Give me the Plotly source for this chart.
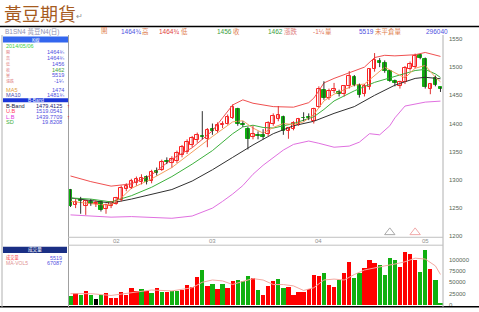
import plotly.graph_objects as go

# ---------------- data ----------------
opens = [1282,1256,1264,1254,1260,1258,1260,1248,1254,1258,1264,1284,1286,1294,1296,1306,1298,1316,1318,1334,
         1330,1334,1344,1350,1362,1370,1378,1372,1390,1386,1398,1400,1410,1425,1400,1390,1376,1380,1380,1382,
         1399,1408,1412,1386,1390,1398,1410,1412,1404,1430,1460,1446,1458,1456,1452,1466,1482,1469,1452,1464,
         1496,1511,1508,1493,1475,1466,1473,1497,1501,1521,1515,1462,1481,1464.75]
highs = [1284,1266,1270,1264,1266,1264,1262,1258,1262,1270,1290,1294,1302,1306,1310,1308,1318,1322,1336,1340,
         1342,1352,1362,1372,1378,1384,1422,1392,1400,1402,1404,1416,1434,1428,1404,1394,1396,1386,1390,1404,
         1418,1431,1414,1394,1404,1410,1420,1418,1428,1466,1475,1462,1472,1460,1468,1493,1486,1471,1470,1498,
         1525,1516,1512,1495,1478,1476,1502,1510,1524,1523,1517,1472,1485,1464.75]
lows = [1252,1250,1240,1238,1254,1252,1244,1240,1250,1256,1262,1280,1284,1290,1292,1292,1294,1308,1316,1328,
        1322,1330,1340,1346,1358,1366,1372,1358,1380,1384,1392,1398,1408,1396,1394,1354,1372,1372,1372,1378,
        1396,1404,1380,1373,1388,1396,1404,1406,1400,1428,1442,1442,1454,1448,1448,1462,1466,1446,1448,1460,
        1492,1500,1490,1474,1466,1462,1470,1494,1498,1514,1462,1452,1466,1456]
closes = [1254,1260,1262,1262,1258,1258,1247,1256,1260,1268,1286,1290,1298,1302,1304,1296,1314,1312,1332,1332,
          1338,1348,1358,1368,1374,1380,1376,1388,1386,1398,1400,1412,1429,1399,1398,1372,1382,1378,1377,1401,
          1414,1416,1387,1392,1401,1408,1409,1410,1425,1462,1446,1458,1462,1452,1466,1484,1469,1450,1466,1496,
          1513,1508,1493,1476,1472,1473,1499,1505,1520,1517,1465,1470,1469,1462]

volumes = [21000,27000,23000,32000,22000,15000,22000,27000,17000,17000,30000,23000,38000,32000,37000,32000,28000,38000,30000,30000,
           32000,32000,34000,45000,41000,63000,78000,42000,46000,37000,46000,39000,54000,56000,53000,65000,61000,33000,23000,43000,
           54000,59000,39000,41000,22000,29000,29000,35000,67000,65000,71000,45000,41000,56000,72000,96000,61000,72000,82000,99000,
           93000,88000,66000,105000,99000,85000,117000,113000,99000,73000,122000,80000,56000,5519]
vol_dir = list("GRGRGKGRRRRRRRGRGRGRGGRRRRGRGRGRRGGGR"
               "GRRRGGRRRRRRRGRRGRRGGRRRGGGGRRRRGGRGG")

# indicator lines read at sample bars: (bar index, value)
ub_pts = [(0,1307),(4,1297),(8,1289),(12,1293),(16,1309),(20,1337),(24,1357),(28,1387),(30,1410),(32,1433),
          (34,1442),(36,1436),(40,1430),(44,1429),(47,1437),(48,1445),(49,1458),(50,1472),(52,1480),(55,1490),
          (58,1500),(60,1517),(62,1521),(64,1520),(68,1522),(70,1526),(73,1519.05)]
lb_pts = [(0,1238),(4,1236),(8,1234),(12,1235),(16,1234),(20,1232),(24,1236),(28,1250),(30,1262),(32,1275),
          (34,1290),(36,1310),(38,1326),(40,1340),(42,1353),(44,1363),(47,1369),(49,1365),(52,1358),(55,1360),
          (57,1367),(59,1382),(61,1380),(63,1396),(64,1410),(66,1431),(68,1435),(70,1438),(73,1439.77)]
mid_pts = [(0,1268),(4,1264),(8,1259),(12,1266),(16,1274),(20,1283),(24,1298),(28,1318),(32,1340),(36,1362),
           (40,1382),(44,1396),(48,1404),(52,1418),(56,1430),(60,1450),(64,1468),(68,1480),(70,1482),(73,1479.41)]
ma10_pts = [(0,1268),(4,1266),(8,1261),(12,1272),(16,1287),(20,1306),(24,1328),(28,1352),(32,1382),(34,1394),
            (36,1397),(38,1393),(40,1392),(44,1400),(48,1412),(50,1425),(52,1440),(56,1458),(60,1473),(64,1484),
            (68,1494),(70,1496),(72,1488),(73,1481.75)]
ma5_pts = [(0,1262),(2,1260),(4,1258),(6,1256),(8,1256),(10,1268),(12,1285),(16,1302),(20,1322),(24,1350),
           (28,1377),(32,1403),(34,1405),(36,1392),(38,1383),(40,1393),(42,1400),(44,1398),(46,1403),(48,1416),
           (50,1440),(52,1452),(54,1460),(56,1468),(58,1470),(60,1485),(62,1500),(64,1490),(66,1481),(68,1498),
           (70,1503),(72,1482),(73,1474)]
vma_pts = [(0,25000),(4,25000),(8,21000),(12,27000),(16,33000),(20,31000),(24,38000),(26,50000),(28,55000),(30,53000),
           (32,45000),(34,52000),(36,58000),(38,55000),(40,45000),(42,45000),(44,42000),(46,32000),(48,38000),(50,55000),
           (52,57000),(54,55000),(56,67000),(58,77000),(60,82000),(62,86000),(64,90000),(66,95000),(68,103000),
           (70,101000),(72,86000),(73,67087)]

month_idx = [9, 28, 49, 70]
month_lbl = ["02", "03", "04", "05"]
price_ticks = [1200, 1250, 1300, 1350, 1400, 1450, 1500, 1550]
vol_ticks = [0, 25000, 50000, 75000, 100000]
signal_idx = [63, 68]
signal_val = [1207, 1207]
signal_col = ["#a8a8a8", "#f0a8a8"]

# ---------------- layout helpers ----------------
W, H = 479, 312
ML, MR, MT, MB = 68, 36, 35, 2
PW, PH = W - ML - MR, H - MT - MB
def fx(px): return (px - ML) / PW
def fy(py): return (H - MB - py) / PH

SANS = "Liberation Sans, Noto Sans CJK TC, sans-serif"
CJK = "Noto Sans CJK TC, Liberation Sans, sans-serif"

n = len(closes)
idx = list(range(n))
fig = go.Figure()

def line_trace(pts, color, yaxis="y", xaxis="x", width=1):
    fig.add_trace(go.Scatter(x=[p[0] for p in pts], y=[p[1] for p in pts], mode="lines",
                             line=dict(color=color, width=width), xaxis=xaxis, yaxis=yaxis,
                             hoverinfo="skip", showlegend=False))

line_trace(ub_pts, "#f05050")
line_trace(lb_pts, "#e070e0")
line_trace(mid_pts, "#303030")
line_trace(ma10_pts, "#3cb03c")
line_trace(ma5_pts, "#f4a060")

# wicks
up = [i for i in idx if closes[i] >= opens[i]]
dn = [i for i in idx if closes[i] < opens[i]]
def wick_xy(sel):
    xs, ys = [], []
    for i in sel:
        xs += [i, i, None]
        ys += [lows[i], highs[i], None]
    return xs, ys
wx, wy = wick_xy(up)
fig.add_trace(go.Scatter(x=wx, y=wy, mode="lines", line=dict(color="#e03030", width=1),
                         hoverinfo="skip", showlegend=False))
wx, wy = wick_xy(dn)
fig.add_trace(go.Scatter(x=wx, y=wy, mode="lines", line=dict(color="#303030", width=1),
                         hoverinfo="skip", showlegend=False))
# bodies
def body(sel, fill, edge):
    fig.add_trace(go.Bar(x=sel, base=[min(opens[i], closes[i]) for i in sel],
                         y=[max(abs(closes[i] - opens[i]), 0.9) for i in sel],
                         width=0.7, marker=dict(color=fill, line=dict(color=edge, width=1)),
                         hoverinfo="skip", showlegend=False))
body(up, "#ffffff", "#ff2020")
body(dn, "#10b010", "#10b010")

fig.add_trace(go.Scatter(x=signal_idx, y=signal_val, mode="markers",
                         marker=dict(symbol="triangle-up-open", size=9, color=signal_col, line=dict(width=1, color=signal_col)),
                         hoverinfo="skip", showlegend=False))

# volume
cmap = {"R": "#ff0000", "G": "#10b010", "K": "#000000"}
fig.add_trace(go.Bar(x=idx, y=volumes, width=0.85, marker=dict(color=[cmap[c] for c in vol_dir], line=dict(width=0)),
                     xaxis="x2", yaxis="y2", hoverinfo="skip", showlegend=False))
line_trace(vma_pts, "#f4a8a0", yaxis="y2", xaxis="x2")

fig.update_layout(
    width=W, height=H, margin=dict(l=ML, r=MR, t=MT, b=MB, pad=0),
    paper_bgcolor="white", plot_bgcolor="white", barmode="overlay", bargap=0,
    font=dict(family=SANS, size=6, color="#555"),
    xaxis=dict(domain=[0, 1], range=[-0.5, n - 0.5], showticklabels=False, showgrid=False,
               zeroline=False, showline=False, anchor="y"),
    xaxis2=dict(domain=[0, 1], range=[-0.5, n - 0.5], showticklabels=False, showgrid=False,
                zeroline=False, showline=False, anchor="y2", matches="x"),
    yaxis=dict(domain=[fy(239), 1], range=[1199.2, 1557], side="right", tickvals=price_ticks,
               ticktext=[str(v) for v in price_ticks], showgrid=False, zeroline=False,
               showline=False, ticks="", tickfont=dict(size=6, color="#556655"), ticklabelstandoff=5),
    yaxis2=dict(domain=[0, fy(248)], range=[-4350, 130435], side="right", tickvals=vol_ticks,
                ticktext=[str(v) for v in vol_ticks], showgrid=False, zeroline=False,
                showline=False, ticks="", tickfont=dict(size=6, color="#556655"), ticklabelstandoff=5),
)

shapes = []
def hline(y, x0, x1, color, w=1):
    shapes.append(dict(type="line", xref="paper", yref="paper", x0=fx(x0), x1=fx(x1), y0=fy(y), y1=fy(y),
                       line=dict(color=color, width=w)))
def vline(x, y0, y1, color, w=1):
    shapes.append(dict(type="line", xref="paper", yref="paper", x0=fx(x), x1=fx(x), y0=fy(y0), y1=fy(y1),
                       line=dict(color=color, width=w)))
def rect(x0, y0, x1, y1, color):
    shapes.append(dict(type="rect", xref="paper", yref="paper", x0=fx(x0), x1=fx(x1), y0=fy(y1), y1=fy(y0),
                       fillcolor=color, line=dict(width=0), layer="below"))

hline(26.5, 0, 479, "#000000", 1.5)
hline(309.8, 0, 479, "#000000", 1.5)
vline(68.5, 35, 310, "#a0a0a0")
vline(2, 35, 310, "#b0b0b0")
vline(443, 35, 310, "#b0b0b0")
hline(239.5, 68, 443, "#c0c0c0")
hline(247.5, 68, 443, "#c0c0c0")
rect(3, 36.5, 68, 42.5, "#3366ee")
rect(3, 99, 68, 103, "#1a36d8")
rect(3, 249, 67, 255.5, "#1a2f84")

ann = []
def txt(s, x, y, color, size=6, anchor="left", family=SANS):
    ann.append(dict(text=s, xref="paper", yref="paper", x=fx(x), y=fy(y), xanchor=anchor, yanchor="middle",
                    showarrow=False, font=dict(family=family, size=size, color=color)))

# title
txt("黃豆期貨", 2, 13, "#a65b1f", 18, family=CJK)
txt("↵", 74, 16, "#909090", 8)

# header row
hy = 31
for s, x, c in [("B1SN4 黃豆N4(日)", 3, "#9090b0"), ("開", 99, "#e08050"), ("1464¾", 119, "#5050e0"),
                ("高", 140, "#e08050"), ("1464¾", 157, "#e04040"), ("低", 179, "#e08050"),
                ("1456", 215, "#40a040"), ("收", 231, "#e08050"), ("1462", 266, "#40a040"),
                ("漲跌", 282, "#e08080"), ("-1¼", 311, "#e07060"), ("量", 323, "#e08050"),
                ("5519", 357, "#5050e0"), ("未平倉量", 373, "#e08050"), ("296040", 424, "#5050e0")]:
    txt(s, x, hy, c, 6.5)

# left info panel
txt("K線", 35.5, 39.6, "#ffffff", 4.5, "center", CJK)
txt("2014/05/06", 4, 46.3, "#40d040", 5.5)
rows = [("開", "1464¾", "#5050e0"), ("高", "1464¾", "#5050e0"), ("低", "1456", "#5050e0"),
        ("收", "1462", "#40a040"), ("量", "5519", "#5050e0"), ("漲跌", "-1¼", "#5050e0")]
for k, (lab, val, col) in enumerate(rows):
    yy = 52.5 + k * 5.8
    txt(lab, 4, yy, "#e08080", 4, family=CJK)
    txt(val, 66, yy, col, 5.6, "right")
txt("MA5", 4, 90.5, "#e0a040", 5.6)
txt("1474", 66, 90.5, "#5050e0", 5.6, "right")
txt("MA10", 4, 95.5, "#5050b0", 5.6)
txt("1481¾", 66, 95.5, "#5050e0", 5.6, "right")
txt("B-Band", 35.5, 101, "#ffffff", 4.8, "center")
for k, (lab, lc, val, arrow) in enumerate([("B-Band", "#202040", "1479.4125", True),
                                           ("U.B", "#ff4060", "1519.0541", False),
                                           ("L.B", "#e040e0", "1439.7709", True),
                                           ("SD", "#40b040", "19.8208", False)]):
    yy = 106.8 + k * 5.3
    txt(lab, 4, yy, lc, 5.6)
    txt(val, 64, yy, "#202070" if k == 0 else "#5050e0", 5.6, "right")
    if arrow:
        txt("↑", 64.5, yy, "#e02020", 5.6)

txt("成交量", 35, 252.3, "#ffffff", 4.6, "center", CJK)
txt("成交量", 4, 260.2, "#ff4040", 4.2, family=CJK)
txt("5519", 64, 260.2, "#5050e0", 5.4, "right")
txt("MA-VOL5", 4, 266, "#e09090", 5)
txt("67087", 64, 266, "#5050e0", 5.4, "right")

# month labels in date strip
for i, lbl in zip(month_idx, month_lbl):
    ann.append(dict(text=lbl, xref="x", yref="paper", x=i, y=fy(243.5), xanchor="center", yanchor="middle",
                    showarrow=False, font=dict(family=SANS, size=6, color="#909090")))

fig.update_layout(shapes=shapes, annotations=ann)
fig.write_html("out.html")
